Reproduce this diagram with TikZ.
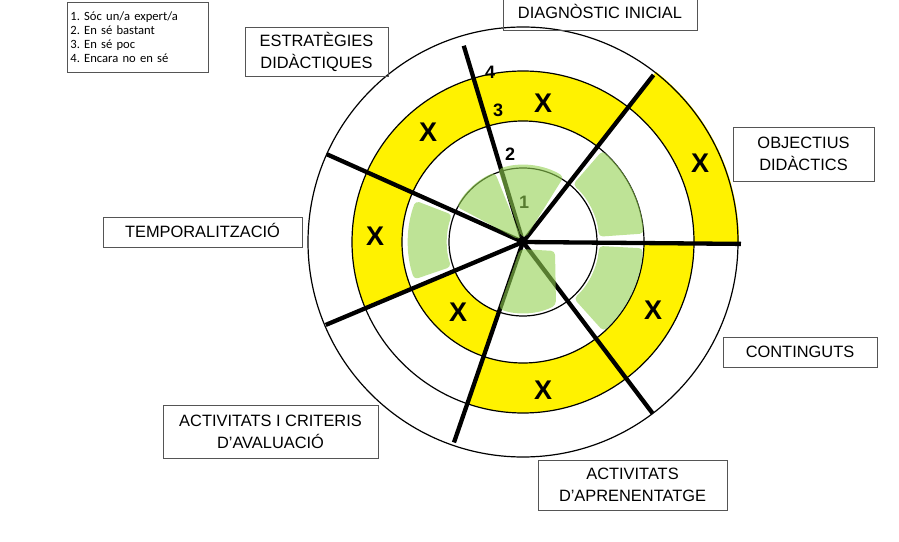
\documentclass[tikz,border=0pt]{standalone}
\usepackage{fontspec}
\setmainfont{Liberation Sans}
\newfontfamily\legendfont{Carlito}
\usetikzlibrary{positioning}
\definecolor{marker}{RGB}{255,242,0}
\definecolor{highlight}{RGB}{146,208,80}
\definecolor{frame}{RGB}{85,85,85}
\frenchspacing
% annular piece of the wheel: start angle, end angle, inner radius, outer radius
\newcommand{\wheelpiece}[4]{([shift={(#1:#3)}]C) arc[start angle=#1, end angle=#2, radius=#3] -- ([shift={(#2:#4)}]C) arc[start angle=#2, end angle=#1, radius=#4] -- cycle}

\begin{document}
\begin{tikzpicture}[x=1pt, y=1pt,
	labelbox/.style={draw=frame, line width=0.9pt, align=center, inner sep=0pt, font=\fontsize{16.4}{22}\selectfont},
	oneline/.style={text height=11.7, text depth=0},
	xmark/.style={font=\fontsize{27}{27}\selectfont\bfseries},
	level/.style={font=\fontsize{18}{18}\selectfont\bfseries},
	spoke/.style={line width=4.3pt},
	ring/.style={line width=1.2pt},
	blob/.style={fill=highlight, fill opacity=0.6, rounded corners=4pt}]
	\useasboundingbox (0,0) rectangle (899,541);
	\coordinate (C) at (523,299);

	% chosen levels
	\fill[marker] \wheelpiece{0}{52}{171}{216};
	\fill[marker] \wheelpiece{52}{107}{121}{171};
	\fill[marker] \wheelpiece{107}{156}{121}{171};
	\fill[marker] \wheelpiece{156}{203}{121}{171};
	\fill[marker] \wheelpiece{203}{251}{74}{121};
	\fill[marker] \wheelpiece{251}{307}{121}{171};
	\fill[marker] \wheelpiece{307}{360}{121}{171};

	\draw[ring] (C) circle[radius=74];
	\draw[ring] (C) circle[radius=121];
	\draw[ring] (C) circle[radius=171];
	\draw[ring] (C) circle[radius=215];

	\draw[spoke] (C) -- ++(-0.5:218);
	\draw[spoke] (C) -- ++(52:212);
	\draw[spoke] (C) -- ++(106.8:205);
	\draw[spoke] (C) -- ++(155.9:215);
	\draw[spoke] (C) -- ++(202.8:214);
	\draw[spoke] (C) -- ++(251:212);
	\draw[spoke] (C) -- ++(307.1:215);

	\node[level] (l4) at (490,469) {4};
	\node[level] (l3) at (498,431) {3};
	\node[level] (l2) at (510,387) {2};
	\node[level] (l1) at (524,339) {1};

	% green highlights
	\fill[blob] \wheelpiece{58}{109}{5}{77};
	\fill[blob] \wheelpiece{112}{152}{5}{75};
	\fill[blob] ([shift={(-3,-7)}]C) -- ([shift={(32,-9)}]C) -- ([shift={(33,-63)}]C) arc[start angle=297.6, end angle=250, radius=71] -- cycle;
	\fill[blob] \wheelpiece{4}{49}{76}{121};
	\fill[blob] \wheelpiece{-48}{-3}{76}{120};
	\fill[blob] \wheelpiece{159}{199}{76}{115};

	\node[xmark] (x1) at (543,438) {X};
	\node[xmark] (x2) at (428,409) {X};
	\node[xmark] (x3) at (375,305) {X};
	\node[xmark] (x4) at (700,378) {X};
	\node[xmark] (x5) at (458,229) {X};
	\node[xmark] (x6) at (543,151) {X};
	\node[xmark] (x7) at (653,231) {X};

	\node[labelbox, oneline, minimum width=194, minimum height=35] (diag) at (600,528.5) {DIAGNÒSTIC INICIAL};
	\node[labelbox, minimum width=143, minimum height=49] (estr) at (316.5,489.5) {ESTRATÈGIES\\DIDÀCTIQUES};
	\node[labelbox, minimum width=141, minimum height=54] (obj) at (803.5,387) {OBJECTIUS\\DIDÀCTICS};
	\node[labelbox, oneline, minimum width=154, minimum height=30] (cont) at (800,189) {CONTINGUTS};
	\node[labelbox, oneline, minimum width=199, minimum height=30] (temp) at (202.5,309) {TEMPORALITZACIÓ};
	\node[labelbox, minimum width=215, minimum height=53] (aval) at (270.5,109.5) {ACTIVITATS I CRITERIS\\D’AVALUACIÓ};
	\node[labelbox, minimum width=189, minimum height=50] (apren) at (632.5,56) {ACTIVITATS\\D’APRENENTATGE};

	\node[draw=frame, line width=0.9pt, anchor=north west, align=left, text width=135, inner xsep=3, inner ysep=0, minimum height=70, font=\legendfont\fontsize{12.6}{14}\selectfont] (legend) at (67,539) {1. Sóc un/a expert/a\\2. En sé bastant\\3. En sé poc\\4. Encara no en sé};
\end{tikzpicture}
\end{document}
